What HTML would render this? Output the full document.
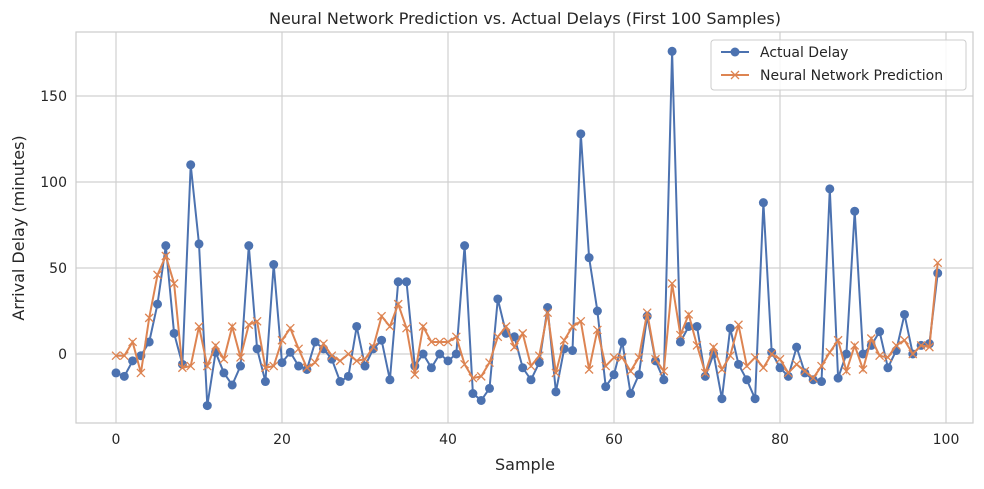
<!DOCTYPE html>
<html><head><meta charset="utf-8"><style>
body{margin:0;background:#fff;font-family:"Liberation Sans","DejaVu Sans",sans-serif}
svg text{font-family:"DejaVu Sans","Liberation Sans",sans-serif;fill:#262626}
</style></head><body>
<svg id="chart" width="984" height="484" xmlns="http://www.w3.org/2000/svg"></svg>
<script>
const actualDelay=[-11,-13,-4,-1,7,29,63,12,-6,110,64,-30,1,-11,-18,-7,63,3,-16,52,-5,1,-7,-9,7,3,-3,-16,-13,16,-7,3,8,-15,42,42,-7,0,-8,0,-4,0,63,-23,-27,-20,32,12,10,-8,-15,-5,27,-22,3,2,128,56,25,-19,-12,7,-23,-12,22,-4,-15,176,7,16,16,-13,0,-26,15,-6,-15,-26,88,1,-8,-13,4,-11,-15,-16,96,-14,0,83,0,5,13,-8,2,23,0,5,6,47];
const predicted=[-1,-1,7,-11,21,46,57,41,-8,-7,16,-7,5,-3,16,-2,17,19,-8,-7,8,15,3,-8,-5,6,-1,-4,0,-4,-3,4,22,16,29,15,-12,16,7,7,7,10,-6,-14,-13,-5,10,16,4,12,-7,-1,24,-11,8,16,19,-9,14,-7,-2,-2,-10,-2,24,-3,-10,41,11,23,5,-11,4,-9,-1,17,-7,-2,-8,0,-3,-11,-6,-10,-14,-7,1,8,-10,5,-9,9,-1,-2,5,8,0,5,4,53];
const xTicks=[0,20,40,60,80,100];
const yTicks=[0,50,100,150];
const L=76,R=973,T=32,B=423;
const X=v=>116+(v)*8.3;
const Y=v=>354-v*1.72;
const svg=document.getElementById('chart');
const NS='http://www.w3.org/2000/svg';
function mk(t,a,p){const e=document.createElementNS(NS,t);for(const k in a)e.setAttribute(k,a[k]);(p||svg).appendChild(e);return e;}
// grid
xTicks.forEach(t=>{const l=mk('line',{x1:X(t),x2:X(t),y1:T,y2:B,stroke:'#d0d0d0','stroke-width':1.2});


const tx=mk('text',{x:X(t),y:B+21,'text-anchor':'middle','font-size':14});tx.textContent=t;

});
yTicks.forEach(t=>{const l=mk('line',{x1:L,x2:R,y1:Y(t),y2:Y(t),stroke:'#d0d0d0','stroke-width':1.2});


const tx=mk('text',{x:L-9,y:Y(t)+5,'text-anchor':'end','font-size':14});tx.textContent=t;

});
const fr=mk('rect',{x:L,y:T,width:R-L,height:B-T,fill:'none',stroke:'#cccccc','stroke-width':1.2});


// series
const pa=actualDelay.map((v,i)=>X(i)+','+Y(v)).join(' ');
const la=mk('polyline',{points:pa,fill:'none',stroke:'#4c72b0','stroke-width':2});


actualDelay.forEach((v,i)=>{const c=mk('circle',{cx:X(i),cy:Y(v),r:4.5,fill:'#4c72b0'});

});
const pp=predicted.map((v,i)=>X(i)+','+Y(v)).join(' ');
const lp=mk('polyline',{points:pp,fill:'none',stroke:'#dd8452','stroke-width':2});


predicted.forEach((v,i)=>{const x=X(i),y=Y(v),s=4;const p=mk('path',{d:`M${x-s},${y-s}L${x+s},${y+s}M${x-s},${y+s}L${x+s},${y-s}`,stroke:'#dd8452','stroke-width':1.3});

});
// titles
let t=mk('text',{x:525,y:24,'text-anchor':'middle','font-size':16});t.textContent='Neural Network Prediction vs. Actual Delays (First 100 Samples)';


t=mk('text',{x:525,y:470,'text-anchor':'middle','font-size':16});t.textContent='Sample';


t=mk('text',{x:24,y:228,'text-anchor':'middle','font-size':16,transform:'rotate(-90 24 228)'});t.textContent='Arrival Delay (minutes)';


// legend
const g=mk('g',{});


mk('rect',{x:711,y:40,width:255,height:50,rx:3,fill:'#fff','fill-opacity':0.85,stroke:'#cccccc'},g);
mk('line',{x1:721,x2:749,y1:52,y2:52,stroke:'#4c72b0','stroke-width':2},g);
mk('circle',{cx:735,cy:52,r:4.5,fill:'#4c72b0'},g);
let lt=mk('text',{x:760,y:57,'font-size':14},g);lt.textContent='Actual Delay';


mk('line',{x1:721,x2:749,y1:75,y2:75,stroke:'#dd8452','stroke-width':2},g);
mk('path',{d:'M731,71L739,79M731,79L739,71',stroke:'#dd8452','stroke-width':1.3},g);
lt=mk('text',{x:760,y:80,'font-size':14},g);lt.textContent='Neural Network Prediction';


</script>
</body></html>
